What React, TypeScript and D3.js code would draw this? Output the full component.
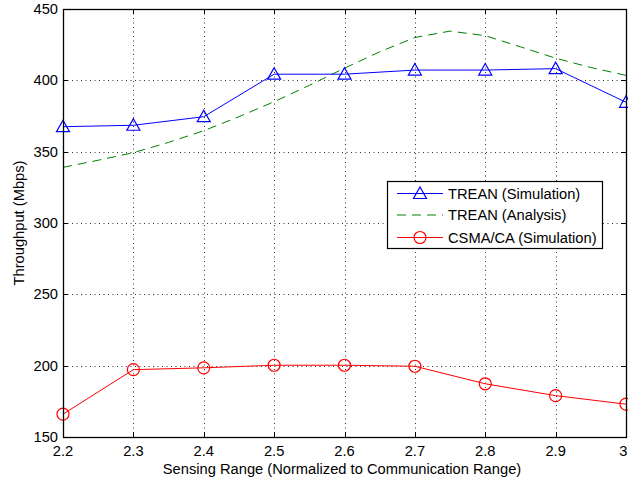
import { useRef, useEffect } from 'react';
import * as d3 from 'd3';

const xTicks = [2.2, 2.3, 2.4, 2.5, 2.6, 2.7, 2.8, 2.9, 3];
const yTicks = [150, 200, 250, 300, 350, 400, 450];

const simRange = [2.2, 2.3, 2.4, 2.5, 2.6, 2.7, 2.8, 2.9, 3.0];
const treanSim = [367.5, 368.5, 374.5, 404.3, 404.3, 407.2, 407.2, 408.2, 384.6];
const csmaSim = [166, 197.2, 198.5, 200.3, 200.3, 199.6, 187.3, 179, 173];

const anaRange = [2.2, 2.25, 2.3, 2.35, 2.4, 2.45, 2.5, 2.55, 2.6, 2.65, 2.7, 2.75, 2.8, 2.85, 2.9, 2.95, 3.0];
const treanAna = [339, 344, 349.3, 356.5, 364.7, 374.5, 385, 396.5, 408.5, 420, 430, 434.5, 431.3, 423.5, 415.5, 409, 403.5];

const W = 628;
const H = 482;
const FONT = "'Liberation Sans', Arial, Helvetica, sans-serif";

export default function App() {
  const svgRef = useRef<SVGSVGElement>(null);

  useEffect(() => {
    const svg = d3.select(svgRef.current);
    svg.selectAll('*').remove();

    const left = 63, right = 626, top = 9, bottom = 437;
    const x = d3.scaleLinear().domain([2.2, 3]).range([left, right]);
    const y = d3.scaleLinear().domain([150, 450]).range([bottom, top]);

    svg.append('rect').attr('width', W).attr('height', H).attr('fill', '#fff');

    // grid
    const grid = svg.append('g').attr('stroke', '#333').attr('stroke-width', 1)
      .attr('stroke-dasharray', '1,3.5');
    xTicks.slice(1, -1).forEach((t) => {
      grid.append('line').attr('x1', Math.round(x(t)) + 0.5).attr('x2', Math.round(x(t)) + 0.5)
        .attr('y1', top).attr('y2', bottom);
    });
    yTicks.slice(1, -1).forEach((t) => {
      grid.append('line').attr('y1', Math.round(y(t)) + 0.5).attr('y2', Math.round(y(t)) + 0.5)
        .attr('x1', left).attr('x2', right);
    });

    // tick marks (inside, all four sides)
    const tk = svg.append('g').attr('stroke', '#000').attr('stroke-width', 1);
    xTicks.forEach((t) => {
      const px = Math.round(x(t)) + 0.5;
      tk.append('line').attr('x1', px).attr('x2', px).attr('y1', bottom).attr('y2', bottom - 5);
      tk.append('line').attr('x1', px).attr('x2', px).attr('y1', top).attr('y2', top + 5);
    });
    yTicks.forEach((t) => {
      const py = Math.round(y(t)) + 0.5;
      tk.append('line').attr('x1', left).attr('x2', left + 5).attr('y1', py).attr('y2', py);
      tk.append('line').attr('x1', right).attr('x2', right - 5).attr('y1', py).attr('y2', py);
    });

    // tick labels (last one kept inside the page edge)
    xTicks.forEach((t, i) => {
      const last = i === xTicks.length - 1;
      svg.append('text').attr('x', last ? W - 0.5 : x(t)).attr('y', 456)
        .attr('text-anchor', last ? 'end' : 'middle').attr('font-family', FONT).attr('font-size', 14.7)
        .attr('fill', '#000').text(d3.format('')(t));
    });
    yTicks.forEach((t) => {
      svg.append('text').attr('x', 58).attr('y', y(t) + 5)
        .attr('text-anchor', 'end').attr('font-family', FONT).attr('font-size', 14.7)
        .attr('fill', '#000').text(String(t));
    });

    // axis labels
    svg.append('text').attr('x', 342).attr('y', 474)
      .attr('text-anchor', 'middle').attr('font-family', FONT).attr('font-size', 14.7)
      .text('Sensing Range (Normalized to Communication Range)');
    svg.append('text').attr('transform', `translate(24,${(top + bottom) / 2}) rotate(-90)`)
      .attr('text-anchor', 'middle').attr('font-family', FONT).attr('font-size', 14.7)
      .text('Throughput (Mbps)');

    const line = d3.line<[number, number]>().x((d) => x(d[0])).y((d) => y(d[1]));
    const pairs = (xs: number[], ys: number[]) => xs.map((v, i) => [v, ys[i]] as [number, number]);

    const triangle = (g: d3.Selection<SVGGElement, unknown, null, undefined>, cx: number, cy: number) =>
      g.append('path')
        .attr('d', `M${cx},${cy - 6.5}L${cx + 6.5},${cy + 5}L${cx - 6.5},${cy + 5}Z`)
        .attr('fill', 'none').attr('stroke', '#0000ff').attr('stroke-width', 1.2);
    const circle = (g: d3.Selection<SVGGElement, unknown, null, undefined>, cx: number, cy: number) =>
      g.append('circle').attr('cx', cx).attr('cy', cy).attr('r', 6)
        .attr('fill', 'none').attr('stroke', '#ff0000').attr('stroke-width', 1.2);

    const plot = svg.append('g');

    plot.append('path').datum(pairs(anaRange, treanAna)).attr('d', line)
      .attr('fill', 'none').attr('stroke', '#008000').attr('stroke-width', 1)
      .attr('stroke-dasharray', '9,6');

    plot.append('path').datum(pairs(simRange, treanSim)).attr('d', line)
      .attr('fill', 'none').attr('stroke', '#0000ff').attr('stroke-width', 1);
    pairs(simRange, treanSim).forEach(([a, b]) => triangle(plot, x(a), y(b)));

    plot.append('path').datum(pairs(simRange, csmaSim)).attr('d', line)
      .attr('fill', 'none').attr('stroke', '#ff0000').attr('stroke-width', 1);
    pairs(simRange, csmaSim).forEach(([a, b]) => circle(plot, x(a), y(b)));

    // axes box
    svg.append('rect').attr('x', left + 0.5).attr('y', top + 0.5)
      .attr('width', right - left).attr('height', bottom - top)
      .attr('fill', 'none').attr('stroke', '#000').attr('stroke-width', 1.3);

    // legend
    const lg = svg.append('g');
    lg.append('rect').attr('x', 387.5).attr('y', 181.5).attr('width', 215).attr('height', 67)
      .attr('fill', '#fff').attr('stroke', '#000').attr('stroke-width', 1.2);
    const entries = [
      { label: 'TREAN (Simulation)', color: '#0000ff', dash: null, mark: 'tri' },
      { label: 'TREAN (Analysis)', color: '#008000', dash: '9,6', mark: null },
      { label: 'CSMA/CA (Simulation)', color: '#ff0000', dash: null, mark: 'circ' },
    ];
    const rowY = [193.5, 215, 237.5];
    entries.forEach((e, i) => {
      const ry = rowY[i];
      lg.append('line').attr('x1', 397).attr('x2', 443).attr('y1', ry).attr('y2', ry)
        .attr('stroke', e.color).attr('stroke-width', 1)
        .attr('stroke-dasharray', e.dash ?? null);
      if (e.mark === 'tri') triangle(lg, 420, ry);
      if (e.mark === 'circ') circle(lg, 420, ry);
      lg.append('text').attr('x', 448).attr('y', ry + 5)
        .attr('font-family', FONT).attr('font-size', 14.7).text(e.label);
    });
  }, []);

  return (
    <svg
      ref={svgRef}
      width={W}
      height={H}
      viewBox={`0 0 ${W} ${H}`}
      style={{ position: 'absolute', left: 0, top: 0, display: 'block' }}
    />
  );
}
